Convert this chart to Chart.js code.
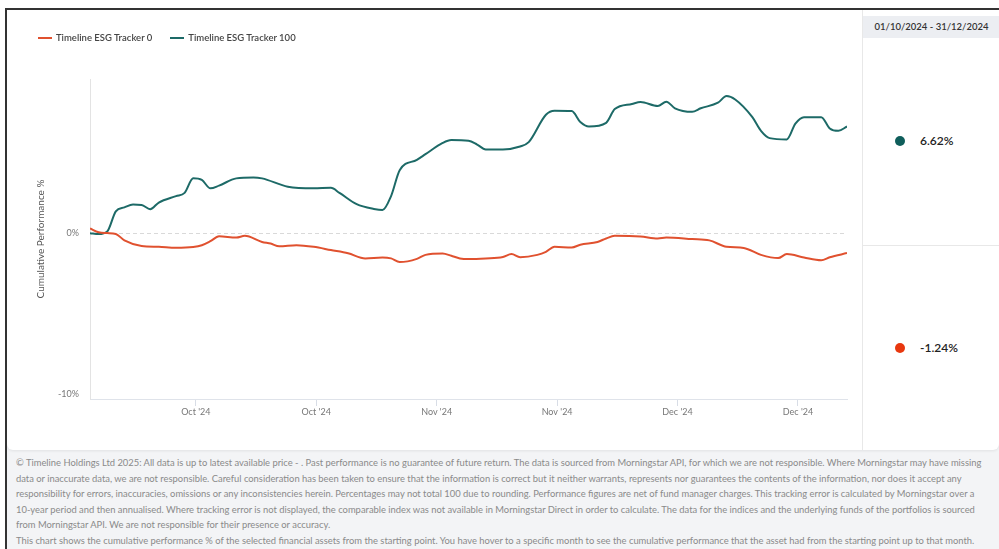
<!DOCTYPE html>
<html>
<head>
<meta charset="utf-8">
<script src="https://cdn.jsdelivr.net/npm/chart.js@4"></script>
<style>
  body { margin: 0; background: #fff; font-family: Lato, "Liberation Sans", sans-serif; }
  #frame { position: absolute; left: 5px; top: 8px; width: 994px; height: 541px; border-left: 2px solid #333; border-top: 2px solid #333; background: #f3f4f6; overflow: hidden; }
  #panel { position: absolute; left: 0; top: 0; width: 992px; height: 440px; background: #fff; border-radius: 0 0 6px 6px; box-shadow: 0 1px 3px rgba(0,0,0,0.08); }
  #chartBox { position: absolute; left: 0; top: 0; width: 855px; height: 440px; }
  #legend { position: absolute; left: 31px; top: 22px; font-size: 9.5px; font-weight: 600; color: #444; display: flex; }
  .legendItem { display: flex; align-items: center; margin-right: 18px; }
  .legendLine { width: 14px; height: 2px; margin-right: 4px; }
  #side { position: absolute; left: 855px; top: 0; width: 137px; height: 440px; border-left: 1px solid #e8e8e8; box-sizing: border-box; }
  #range { position: absolute; left: 0; top: 6px; width: 137px; height: 22px; background: #eceef2; font-size: 9.5px; font-weight: 600; color: #333; text-align: center; line-height: 22px; }
  #divider { position: absolute; left: 0; top: 235px; width: 137px; height: 1px; background: #e8e8e8; }
  .result { position: absolute; left: 32px; display: flex; align-items: center; font-size: 12px; font-weight: 600; color: #222; }
  .dot { width: 10px; height: 10px; border-radius: 50%; margin-right: 15px; }
  #footer { position: absolute; left: 9px; top: 445px; color: #8a8a8a; white-space: nowrap; font-size: 9.4px; line-height: 15.6px; }
</style>
</head>
<body>
<div id="frame">
  <div id="panel">
    <div id="chartBox"><canvas id="perfChart" width="855" height="440"></canvas></div>
    <div id="legend"></div>
    <div id="side">
      <div id="range">01/10/2024 - 31/12/2024</div>
      <div id="divider"></div>
      <div class="result" id="res1" style="top:123px"></div>
      <div class="result" id="res0" style="top:330px"></div>
    </div>
  </div>
  <div id="footer">
    <div>© Timeline Holdings Ltd 2025: All data is up to latest available price - . Past performance is no guarantee of future return. The data is sourced from Morningstar API, for which we are not responsible. Where Morningstar may have missing</div>
    <div>data or inaccurate data, we are not responsible. Careful consideration has been taken to ensure that the information is correct but it neither warrants, represents nor guarantees the contents of the information, nor does it accept any</div>
    <div>responsibility for errors, inaccuracies, omissions or any inconsistencies herein. Percentages may not total 100 due to rounding. Performance figures are net of fund manager charges. This tracking error is calculated by Morningstar over a</div>
    <div>10-year period and then annualised. Where tracking error is not displayed, the comparable index was not available in Morningstar Direct in order to calculate. The data for the indices and the underlying funds of the portfolios is sourced</div>
    <div>from Morningstar API. We are not responsible for their presence or accuracy.</div>
    <div>This chart shows the cumulative performance % of the selected financial assets from the starting point. You have hover to a specific month to see the cumulative performance that the asset had from the starting point up to that month.</div>
  </div>
</div>
<script>
// Series names and final results
const seriesNames = ['Timeline ESG Tracker 0', 'Timeline ESG Tracker 100'];
const finalResults = ['-1.24%', '6.62%'];
const seriesColors = ['#e0512f', '#1d6a67'];
const dotColors = ['#e8380f', '#0f5e5b'];

// Day offsets from 01/10/2024 and cumulative performance (%)
const tracker0Days = [0,1,2,3,4,6,8,10,12,13,14,15,17,18,20,21,22,24,26,28,30,32,34,35,36,38,39,41,42,43,44,46,48,49,50,52,53,54,56,57,59,60,61,64,66,67,70,72,74,76,78,80,81,83,85,86,88];
const tracker0Values = [0.29,0.05,0,-0.05,-0.45,-0.8,-0.85,-0.91,-0.86,-0.75,-0.5,-0.2,-0.27,-0.17,-0.55,-0.65,-0.82,-0.75,-0.85,-1.05,-1.25,-1.57,-1.51,-1.57,-1.8,-1.6,-1.35,-1.26,-1.41,-1.57,-1.61,-1.57,-1.48,-1.3,-1.5,-1.35,-1.16,-0.85,-0.89,-0.72,-0.55,-0.33,-0.17,-0.21,-0.33,-0.27,-0.37,-0.45,-0.85,-0.92,-1.35,-1.55,-1.3,-1.51,-1.68,-1.5,-1.24];

const tracker100Days = [0,1,2,3,4,5,6,7,8,10,11,12,13,14,15,17,19,20,23,26,28,29,31,33,34,35,36,38,39,41,42,44,45,46,48,50,51,53,54,56,57,58,60,61,63,64,66,67,68,70,71,73,74,75,77,78,79,81,82,83,85,86,87,88];
const tracker100Values = [0.0,-0.06,0.1,1.35,1.6,1.78,1.75,1.49,1.9,2.3,2.5,3.4,3.3,2.78,2.95,3.4,3.46,3.4,2.88,2.78,2.81,2.5,1.8,1.5,1.43,2.3,3.9,4.55,4.9,5.6,5.78,5.73,5.5,5.2,5.2,5.38,5.65,7.35,7.6,7.58,6.9,6.62,6.85,7.7,8.02,8.14,7.89,8.16,7.75,7.53,7.75,8.1,8.51,8.3,7.2,6.35,5.9,5.82,6.8,7.2,7.2,6.5,6.35,6.62];

// X axis ticks (day offsets) and labels
const xTickDays = [12.3, 26.3, 40.3, 54.3, 68.3, 82.3];
const xTickLabels = ["Oct '24", "Oct '24", "Nov '24", "Nov '24", "Dec '24", "Dec '24"];
const yTickValues = [-10, 0];

function toPoints(days, values) {
    return days.map((d, i) => ({ x: d, y: values[i] }));
}

// Legend
const legend = document.getElementById('legend');
seriesNames.forEach((name, i) => {
    const item = document.createElement('div');
    item.className = 'legendItem';
    item.innerHTML = `<div class="legendLine" style="background:${seriesColors[i]}"></div><span>${name}</span>`;
    legend.appendChild(item);
});

// Side results
[0, 1].forEach(i => {
    document.getElementById('res' + i).innerHTML =
        `<div class="dot" style="background:${dotColors[i]}"></div><span>${finalResults[i]}</span>`;
});

const axisFont = { family: 'Lato, "Liberation Sans", sans-serif', size: 9 };

new Chart(document.getElementById('perfChart').getContext('2d'), {
    type: 'line',
    data: {
        datasets: [
            {
                label: seriesNames[0],
                data: toPoints(tracker0Days, tracker0Values),
                borderColor: seriesColors[0],
                borderWidth: 2,
                pointRadius: 0,
                cubicInterpolationMode: 'monotone'
            },
            {
                label: seriesNames[1],
                data: toPoints(tracker100Days, tracker100Values),
                borderColor: seriesColors[1],
                borderWidth: 2,
                pointRadius: 0,
                cubicInterpolationMode: 'monotone'
            }
        ]
    },
    options: {
        responsive: false,
        animation: false,
        devicePixelRatio: 1,
        layout: { padding: { top: 69, right: 15, left: 0, bottom: 0 } },
        plugins: { legend: { display: false }, tooltip: { enabled: false } },
        scales: {
            x: {
                type: 'linear',
                min: 0,
                max: 88,
                afterFit: s => { s.height = 51; },
                afterBuildTicks: s => { s.ticks = xTickDays.map(v => ({ value: v })); },
                ticks: {
                    autoSkip: false,
                    maxRotation: 0,
                    padding: 1,
                    color: '#777',
                    font: axisFont,
                    callback: (v, i) => xTickLabels[i]
                },
                grid: { drawOnChartArea: false, tickLength: 7, tickColor: '#d8dde6', color: '#d8dde6' },
                border: { color: '#dfe3ea' }
            },
            y: {
                min: -10.3,
                max: 9.57,
                afterFit: s => { s.width = 83; },
                afterBuildTicks: s => { s.ticks = yTickValues.map(v => ({ value: v })); },
                ticks: {
                    padding: 11,
                    color: '#777',
                    font: axisFont,
                    callback: v => v + '%'
                },
                grid: {
                    drawTicks: false,
                    color: ctx => (ctx.tick && ctx.tick.value === 0) ? '#d9d9d9' : 'rgba(0,0,0,0)'
                },
                border: { color: '#e3e3e3', dash: [4, 3] },
                title: {
                    display: true,
                    text: 'Cumulative Performance %',
                    color: '#555',
                    font: { family: 'Lato, "Liberation Sans", sans-serif', size: 10 },
                    padding: { top: 28, bottom: 0 }
                }
            }
        }
    }
});
</script>
</body>
</html>
